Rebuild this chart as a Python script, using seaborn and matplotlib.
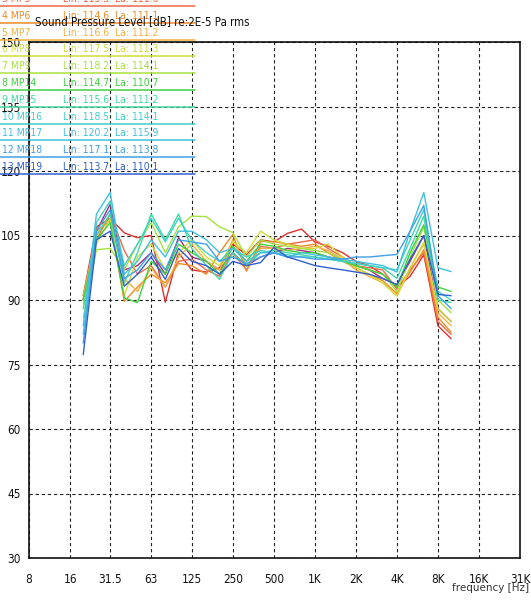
import pandas as pd
import matplotlib
matplotlib.use("Agg")
import matplotlib.pyplot as plt
import seaborn as sns
from matplotlib.lines import Line2D

# third-octave band centres [Hz]
bands = [20, 25, 31.5, 40, 50, 63, 80, 100, 125, 160, 200, 250, 315, 400,
         500, 630, 800, 1000, 1250, 1600, 2000, 2500, 3150, 4000, 5000,
         6300, 8000, 10000]

# measurement points (rows 1-3 are mostly cut off above the picture)
mp_names = ["1 MP1", "2 MP2", "3 MP5", "4 MP6", "5 MP7", "6 MP8", "7 MP9",
            "8 MP14", "9 MP15", "10 MP16", "11 MP17", "12 MP18", "13 MP19"]
lin_values = ["116.0", "115.8", "115.3", "114.6", "116.6", "117.5", "118.2",
              "114.7", "115.6", "118.5", "120.2", "117.1", "113.7"]
la_values = ["112.4", "112.1", "111.6", "111.1", "111.2", "111.3", "114.1",
             "110.7", "111.2", "114.1", "115.9", "113.8", "110.1"]
mp_colors = ["#a0307a", "#e03030", "#f06848", "#f08a28", "#f2b040",
             "#d0dc38", "#a6e040", "#40d040", "#40d8a0", "#40d0c8",
             "#40c0e0", "#40a0e8", "#3060d0"]

# levels in dB per band
mp1 = [90, 106, 112.3, 97, 98, 101, 96, 104.5, 100, 99, 97, 101, 98, 100,
       101, 102, 101.5, 101, 100, 99.5, 98, 97, 95, 93.5, 99, 105, 88, 85]
mp2 = [91, 107, 109, 105.6, 104.5, 105, 89.5, 101, 97, 96.5, 97.5, 103,
       100.5, 104, 103.5, 105.5, 106.5, 103.5, 102.5, 101, 99, 98, 96, 93,
       95.5, 100.5, 84, 81]
mp5 = [90, 104, 110, 101.5, 96, 98, 93, 99, 99.5, 97, 95.5, 101, 97, 102.5,
       102, 103, 103.5, 104, 102, 100, 98, 97.5, 97, 92.5, 97, 101, 85, 82]
mp6 = [90, 106, 108.5, 89.7, 93, 96, 94, 98.5, 98, 96, 101, 105.2, 96.7,
       103.6, 103.6, 103, 102.5, 103, 101, 99, 97.5, 96, 94.5, 91.5, 96.5,
       101.7, 86, 82.5]
mp7 = [91, 105, 110, 95, 92, 97.5, 93, 100, 103, 99, 97, 104, 98, 102, 102,
       101.5, 102, 102.5, 101.5, 99.5, 97, 95.5, 94, 91, 97.5, 103, 87, 84]
mp8 = [89, 103, 109, 91, 100, 103, 97, 101, 104, 100, 98, 103.5, 101, 106,
       104, 103, 102, 102, 103, 100, 97.5, 96, 94, 90.9, 97.5, 103.4, 88, 85]
mp9 = [86, 101.7, 102, 97, 103, 108, 101, 107, 109.5, 109.4, 107, 105.7,
       100, 104, 103, 102.5, 102, 101.5, 101, 99.5, 98, 97, 96, 92, 100, 107,
       90, 87]
mp14 = [90, 104, 108, 90.5, 89.4, 99, 96, 103, 101, 99, 96, 102.5, 99, 103,
        102.5, 101.5, 101, 101, 100, 99, 98, 97, 96, 93, 101, 107.5, 93, 92]
mp15 = [88, 105, 110, 94, 101, 110, 104, 110, 102, 98, 94.8, 101, 98, 101,
        101.5, 101, 100.5, 100, 99.5, 99, 98.5, 98, 97.5, 95, 102, 109.5, 90,
        89.4]
mp16 = [82, 108, 113, 98, 103, 109, 103.5, 109, 104, 101, 99, 102, 100,
        101.5, 101, 100.5, 100, 100, 99.5, 99, 98.5, 98, 97.5, 97, 104, 111,
        92, 90]
mp17 = [84, 110, 115, 96, 99, 104, 100, 106, 106, 104, 101, 102, 99, 101,
        101, 100, 101, 100.5, 100, 99.5, 99, 98.5, 98, 96.5, 106, 115, 97.5,
        96.6]
mp18 = [80, 106, 111, 95, 97, 101, 97, 104, 103.5, 103, 99, 100, 98.5, 100,
        101, 100, 100, 99.5, 99.5, 99.5, 100, 100, 100.3, 100.6, 106, 112, 91,
        88]
mp19 = [77.3, 104, 106, 93.2, 96, 100, 94.8, 102, 99, 98, 96, 99, 98, 98.7,
        102.2, 100, 99, 98, 97.5, 97, 96.5, 96, 95, 93.6, 99.5, 105, 91.3, 91]
levels = [mp1, mp2, mp5, mp6, mp7, mp8, mp9, mp14, mp15, mp16, mp17, mp18,
          mp19]

x_tick_pos = [8, 16, 31.5, 63, 125, 250, 500, 1000, 2000, 4000, 8000, 16000,
              32000]
x_tick_labels = ["8", "16", "31.5", "63", "125", "250", "500", "1K", "2K",
                 "4K", "8K", "16K", "31K"]
y_ticks = [30, 45, 60, 75, 90, 105, 120, 135, 150]

rows = []
for name, vals in zip(mp_names, levels):
    for f, v in zip(bands, vals):
        rows.append({"mp": name, "freq": f, "level": v})
df = pd.DataFrame(rows)

sns.set_style("white")
plt.rcParams["font.family"] = ["DejaVu Sans"]
plt.rcParams["font.stretch"] = "condensed"

W, H = 531, 600
fig = plt.figure(figsize=(W / 100, H / 100), dpi=100)
ax = fig.add_axes([29 / W, 42 / H, 491 / W, 516 / H])

sns.lineplot(data=df, x="freq", y="level", hue="mp",
             palette=dict(zip(mp_names, mp_colors)), estimator=None,
             legend=False, linewidth=1.0, ax=ax)

ax.set_xscale("log", base=2)
ax.set_xlim(8, 32000)
ax.set_ylim(30, 150)
ax.set_xticks(x_tick_pos)
ax.set_xticklabels(x_tick_labels)
ax.minorticks_off()
ax.set_yticks(y_ticks)
ax.set_xlabel("")
ax.set_ylabel("")
ax.grid(True, color="#222222", linestyle=(0, (3, 2.5)), linewidth=0.8)
ax.tick_params(axis="both", length=0, labelsize=8.5, colors="#111111")
ax.tick_params(axis="x", pad=11)
ax.tick_params(axis="y", pad=6)
for sp in ax.spines.values():
    sp.set_color("#111111")
    sp.set_linewidth(1.2)

# legend table in the top left corner, overlapping the plot
for i, (name, lin, la, c) in enumerate(zip(mp_names, lin_values, la_values,
                                           mp_colors)):
    y = 6 + (i - 2) * 16.8
    fig.add_artist(Line2D([0, 195 / W], [1 - y / H, 1 - y / H], color=c,
                          lw=1.1, transform=fig.transFigure))
    ty = 1 - (y - 2) / H
    fig.text(2 / W, ty, name, color=c, fontsize=7.5, va="bottom")
    fig.text(63 / W, ty, "Lin: " + lin, color=c, fontsize=7.5, va="bottom")
    fig.text(115 / W, ty, "La: " + la, color=c, fontsize=7.5, va="bottom")

fig.text(35 / W, 1 - 22 / H, "Sound Pressure Level [dB] re:2E-5 Pa rms",
         fontsize=8.3, va="center", color="#111111")
fig.text(529 / W, 1 - 588 / H, "frequency [Hz]", fontsize=7.5, ha="right",
         va="center", color="#333333", stretch="normal")

fig.savefig("out.png", dpi=100)
